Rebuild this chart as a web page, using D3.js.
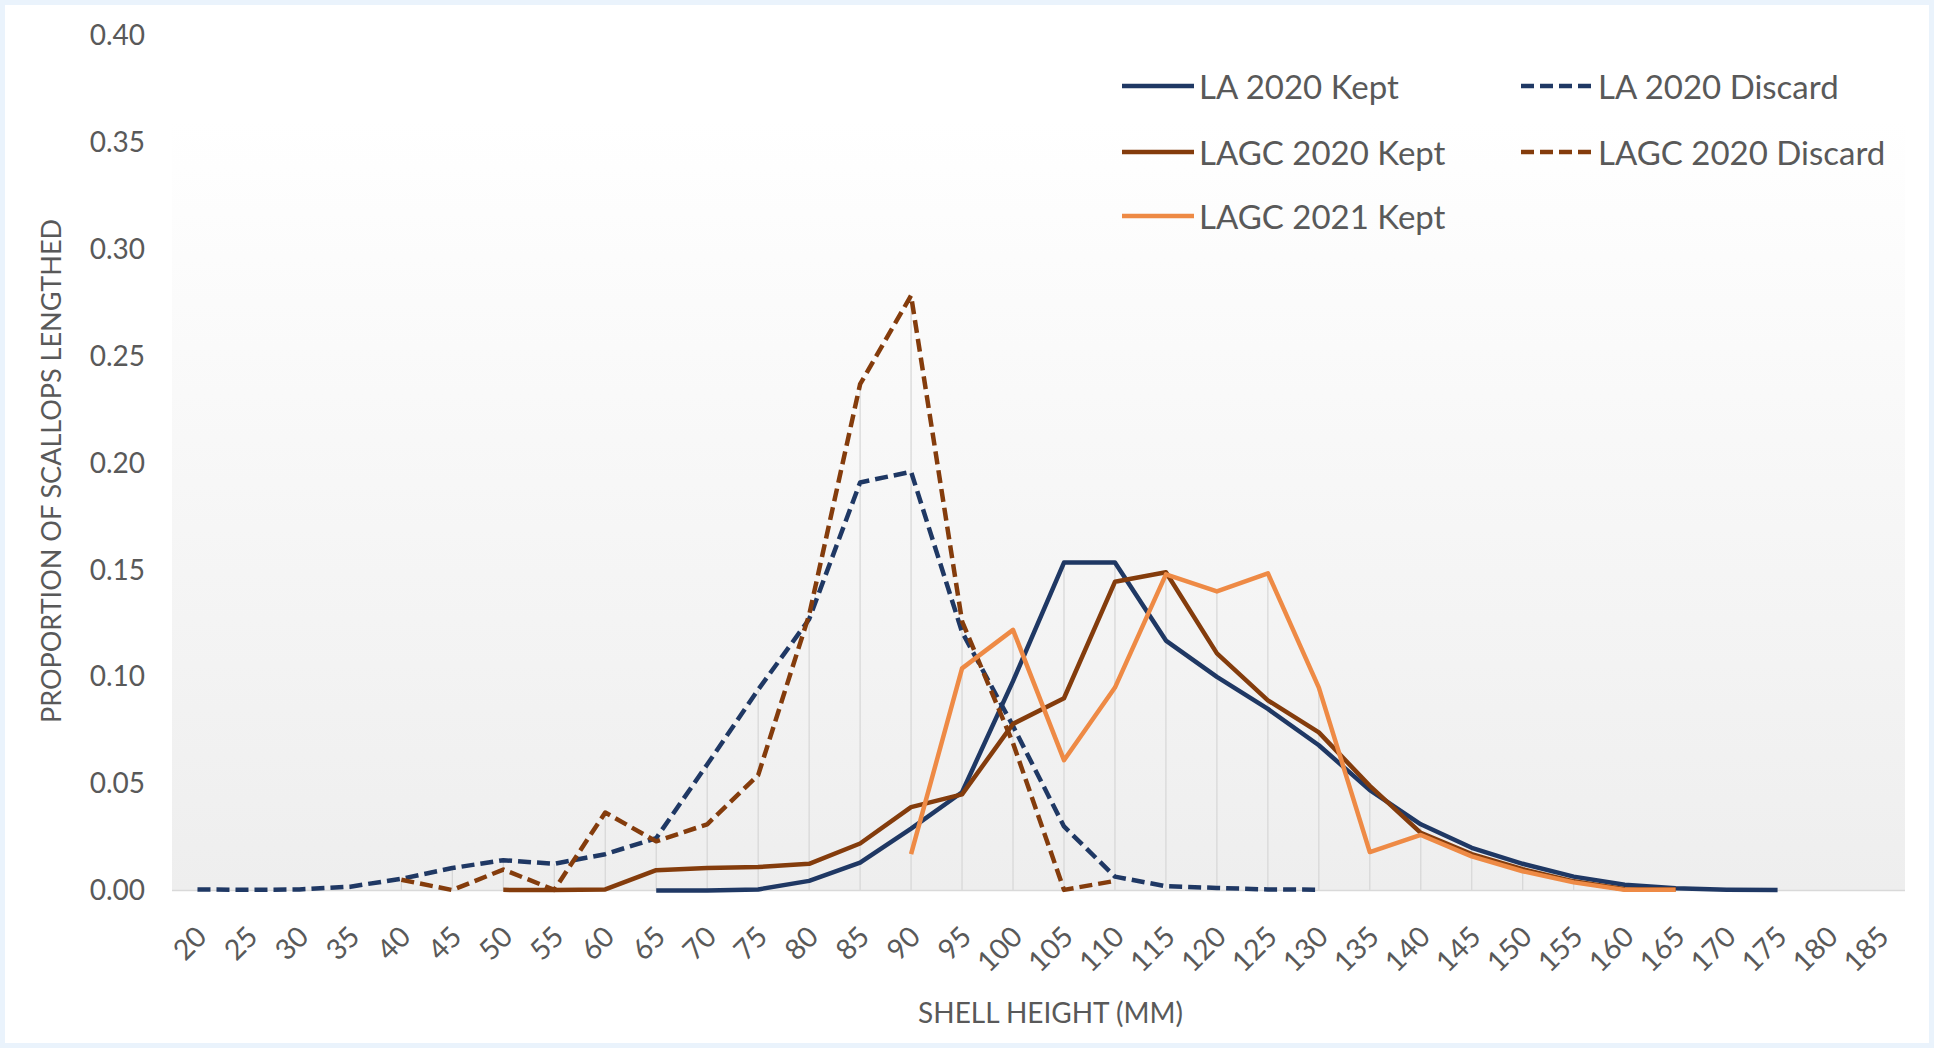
<!DOCTYPE html>
<html>
<head>
<meta charset="utf-8">
<script src="https://cdn.jsdelivr.net/npm/d3@7"></script>
<style>
  html, body { margin: 0; padding: 0; background: #ffffff; }
  svg { display: block; }
  text { font-family: Lato, "Open Sans", "DejaVu Sans", sans-serif; fill: #595959; }
</style>
</head>
<body>
<svg id="chart" width="1934" height="1048"></svg>
<script>
// ---- data ----
const categories = [20,25,30,35,40,45,50,55,60,65,70,75,80,85,90,95,100,105,110,115,120,125,130,135,140,145,150,155,160,165,170,175,180,185];

const laKept2020 = [null,null,null,null,null,null,null,null,null,0,0,0.0005,0.0045,0.013,0.029,0.046,0.098,0.1535,0.1535,0.117,0.100,0.085,0.068,0.047,0.031,0.020,0.0125,0.0065,0.0027,0.001,0.0004,0.0002,null,null];
const laDiscard2020 = [0.0005,0.0003,0.0005,0.0018,0.0055,0.0105,0.0142,0.0125,0.017,0.0245,0.059,0.094,0.127,0.191,0.196,0.121,0.077,0.030,0.0065,0.002,0.0012,0.0005,0.0004,null,null,null,null,null,null,null,null,null,null,null];
const lagcKept2020 = [null,null,null,null,null,null,0.0003,0.0002,0.0005,0.0095,0.0105,0.011,0.0125,0.022,0.039,0.045,0.078,0.090,0.1445,0.149,0.111,0.089,0.074,0.049,0.027,0.017,0.010,0.0043,0.0006,0.0005,null,null,null,null];
const lagcDiscard2020 = [null,null,null,null,0.005,0.0002,0.0098,0.0003,0.0365,0.023,0.031,0.054,0.129,0.237,0.2785,0.126,0.069,0.0003,0.0045,null,null,null,null,null,null,null,null,null,null,null,null,null,null,null];
const lagcKept2021 = [null,null,null,null,null,null,null,null,null,null,null,null,null,null,0.017,0.104,0.122,0.061,0.095,0.148,0.140,0.1485,0.095,0.018,0.026,0.016,0.009,0.0038,0.0003,0.0003,null,null,null,null];

const yTicks = [0,0.05,0.10,0.15,0.20,0.25,0.30,0.35,0.40];

const seriesNames = ["LA 2020 Kept","LA 2020 Discard","LAGC 2020 Kept","LAGC 2020 Discard","LAGC 2021 Kept"];
const seriesValues = [laKept2020, laDiscard2020, lagcKept2020, lagcDiscard2020, lagcKept2021];
const seriesColors = ["#1f3864","#1f3864","#843c0c","#843c0c","#ee8a45"];
const seriesDashed = [false,true,false,true,false];

const xTitle = "SHELL HEIGHT (MM)";
const yTitle = "PROPORTION OF SCALLOPS LENGTHED";

// ---- layout ----
const W = 1934, H = 1048;
const plot = {left: 172, right: 1905, top: 36, bottom: 890.5};

const svg = d3.select("#chart");

// outer frame
svg.append("rect").attr("x",0).attr("y",0).attr("width",W).attr("height",H).attr("fill","#ffffff");
svg.append("rect").attr("x",2.5).attr("y",2.5).attr("width",W-5).attr("height",H-5)
  .attr("fill","none").attr("stroke","#eaf3fc").attr("stroke-width",5);

// gradient
const defs = svg.append("defs");
const grad = defs.append("linearGradient").attr("id","pa").attr("x1",0).attr("y1",0).attr("x2",0).attr("y2",1);
grad.append("stop").attr("offset","0%").attr("stop-color","#ffffff");
grad.append("stop").attr("offset","10%").attr("stop-color","#ffffff");
grad.append("stop").attr("offset","100%").attr("stop-color","#eeeeee");

const x = d3.scaleBand().domain(categories).range([plot.left, plot.right]).paddingInner(0).paddingOuter(0);
const xc = c => x(c) + x.bandwidth()/2;
const y = d3.scaleLinear().domain([0,0.40]).range([plot.bottom, plot.top]);

svg.append("rect").attr("x",plot.left).attr("y",plot.top)
  .attr("width",plot.right-plot.left).attr("height",plot.bottom-plot.top)
  .attr("fill","url(#pa)");

// drop lines (from highest point in each category)
const maxes = categories.map((c,i) => {
  const vals = seriesValues.map(s => s[i]).filter(v => v !== null);
  return vals.length ? d3.max(vals) : null;
});
svg.append("g").selectAll("line").data(categories.filter((c,i)=>maxes[i]!==null))
  .join("line")
  .attr("x1", c => xc(c)).attr("x2", c => xc(c))
  .attr("y1", c => y(maxes[categories.indexOf(c)])).attr("y2", y(0))
  .attr("stroke","#d6d6d6").attr("stroke-width",1.2);

// x axis line
svg.append("line").attr("x1",plot.left).attr("x2",plot.right).attr("y1",y(0)).attr("y2",y(0))
  .attr("stroke","#d9d9d9").attr("stroke-width",1.5);

// y axis labels
const yAxis = d3.axisLeft(y).tickValues(yTicks).tickFormat(d3.format(".2f")).tickSize(0).tickPadding(27);
const gy = svg.append("g").attr("transform",`translate(${plot.left},0)`).call(yAxis);
gy.select(".domain").remove();
gy.selectAll("text").attr("font-size",28).attr("fill","#595959").attr("font-family","Lato, 'Open Sans', sans-serif");

// x axis labels
const xAxis = d3.axisBottom(x).tickSize(0).tickFormat(d => String(d));
const gx = svg.append("g").attr("transform",`translate(0,${plot.bottom})`).call(xAxis);
gx.select(".domain").remove();
gx.selectAll("text")
  .attr("font-size",28.5).attr("fill","#595959").attr("font-family","Lato, 'Open Sans', sans-serif")
  .attr("text-anchor","end").attr("dy","0.35em").attr("y",0)
  .attr("transform","translate(4,41) rotate(-45)");

// series
const line = d3.line()
  .defined(d => d.v !== null)
  .x(d => xc(d.c)).y(d => y(d.v));

seriesValues.forEach((vals, i) => {
  const pts = categories.map((c,j) => ({c, v: vals[j]}));
  svg.append("path").datum(pts)
    .attr("d", line)
    .attr("fill","none")
    .attr("stroke", seriesColors[i])
    .attr("stroke-width", 4.5)
    .attr("stroke-linejoin","round")
    .attr("stroke-dasharray", seriesDashed[i] ? "13,6" : null);
});

// axis titles
svg.append("text").attr("x",(plot.left+plot.right)/2 + 12).attr("y",1012)
  .attr("text-anchor","middle").attr("dominant-baseline","central")
  .attr("font-size",28).text(xTitle);
svg.append("text").attr("transform",`translate(50,${471}) rotate(-90)`)
  .attr("text-anchor","middle").attr("dominant-baseline","central")
  .attr("font-size",27).text(yTitle);

// legend
const legendPos = [
  {x:1122, y:86}, {x:1521, y:86},
  {x:1122, y:152}, {x:1521, y:152},
  {x:1122, y:216}
];
const lg = svg.append("g");
seriesNames.forEach((name,i) => {
  const p = legendPos[i];
  lg.append("line").attr("x1",p.x).attr("x2",p.x+72).attr("y1",p.y).attr("y2",p.y)
    .attr("stroke",seriesColors[i]).attr("stroke-width",4.5)
    .attr("stroke-dasharray", seriesDashed[i] ? "13,6" : null);
  lg.append("text").attr("x",p.x+77).attr("y",p.y).attr("dominant-baseline","central")
    .attr("font-size",33).text(name);
});
</script>
</body>
</html>
